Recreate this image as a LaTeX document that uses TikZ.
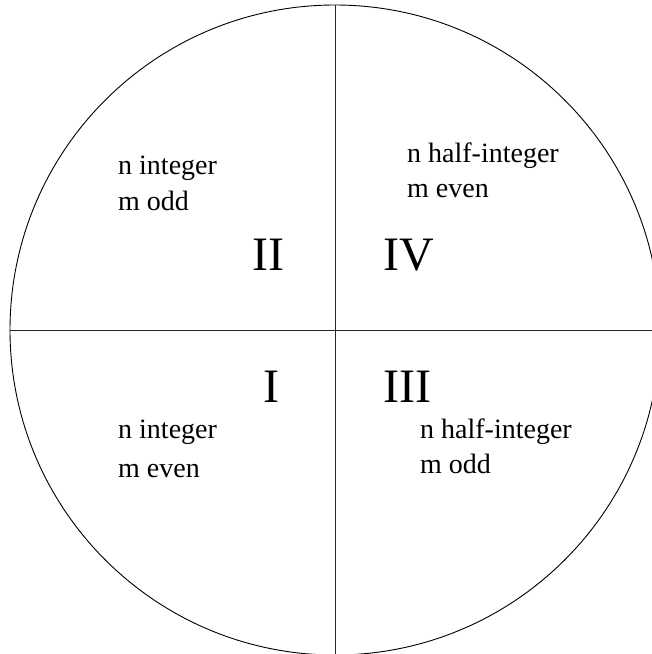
\documentclass[tikz,border=0pt]{standalone}
\usepackage{fontspec}
\setmainfont{Liberation Serif}
\usepackage{tikz}
\usetikzlibrary{positioning,calc}
\tikzset{
  rim/.style={draw=black, line width=0.9pt},
  axisline/.style={draw=black!85, line width=0.9pt},
  quadtext/.style={anchor=base west, inner sep=0pt, font=\fontsize{28}{34}\selectfont, text=black},
  numeral/.style={anchor=base west, inner sep=0pt, font=\fontsize{48}{56}\selectfont, text=black}
}
\begin{document}
\begin{tikzpicture}[x=1pt, y=-1pt]
\useasboundingbox (0,0) rectangle (652,654);
\clip (0,0) rectangle (652,654);
\coordinate (c) at (335,330);
\draw[rim] (c) circle[radius=325];
\coordinate (top) at ($(c)+(0,-325)$);
\coordinate (bot) at ($(c)+(0,325)$);
\coordinate (lft) at ($(c)+(-325,0)$);
\coordinate (rgt) at ($(c)+(325,0)$);
\draw[axisline] (top) -- (bot);
\draw[axisline] (lft) -- (rgt);
% quadrant II
\node[quadtext] (q2n) at (118,174) {n integer};
\node[quadtext] (q2m) at (118,210) {m odd};
\node[numeral] (q2) at (252,270) {II};
% quadrant IV
\node[quadtext] (q4n) at (407,162) {n half-integer};
\node[quadtext] (q4m) at (407,197) {m even};
\node[numeral] (q4) at (383,270) {IV};
% quadrant I
\node[numeral] (q1) at (263,402) {I};
\node[quadtext] (q1n) at (118,438) {n integer};
\node[quadtext] (q1m) at (118,477) {m even};
% quadrant III
\node[numeral] (q3) at (383,402) {III};
\node[quadtext] (q3n) at (420,438) {n half-integer};
\node[quadtext] (q3m) at (420,473) {m odd};
\end{tikzpicture}
\end{document}
